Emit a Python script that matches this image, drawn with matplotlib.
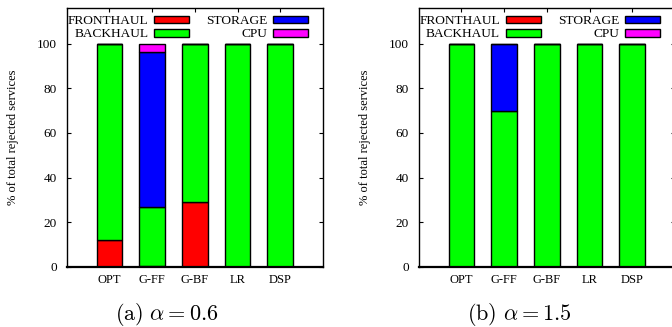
import matplotlib
matplotlib.use("Agg")
from matplotlib import pyplot as plt
import numpy as np

plt.rcParams['font.family'] = ['Liberation Serif', 'DejaVu Serif']
plt.rcParams['mathtext.fontset'] = 'cm'

categories = ['OPT', 'G-FF', 'G-BF', 'LR', 'DSP']
series_names = ['FRONTHAUL', 'BACKHAUL', 'STORAGE', 'CPU']
series_colors = ['#ff0000', '#00ff00', '#0000ff', '#ff00ff']

# (a) alpha = 0.6
fronthaul_a = [12.1, 0.3, 28.8, 0, 0]
backhaul_a = [87.9, 26.6, 71.2, 100, 100]
storage_a = [0, 69.6, 0, 0, 0]
cpu_a = [0, 3.5, 0, 0, 0]

# (b) alpha = 1.5
fronthaul_b = [0, 0, 0, 0, 0]
backhaul_b = [100, 69.7, 100, 100, 100]
storage_b = [0, 30.3, 0, 0, 0]
cpu_b = [0, 0, 0, 0, 0]

captions = [r'$\mathrm{(a)}\ \alpha = 0.6$', r'$\mathrm{(b)}\ \alpha = 1.5$']
yticks = [0, 20, 40, 60, 80, 100]

fig = plt.figure(figsize=(6.72, 3.27), dpi=100)


def draw_panel(ax, data):
    x = np.arange(len(categories))
    bottom = np.zeros(len(categories))
    for name, color, values in zip(series_names, series_colors, data):
        values = np.array(values, dtype=float)
        ax.bar(x, values, 0.6, bottom=bottom, color=color, edgecolor='black',
               linewidth=1.0, label=name, zorder=2)
        bottom += values
    ax.set_xlim(-1, 5)
    ax.set_ylim(0, 116)
    ax.set_xticks(x)
    ax.set_xticklabels(categories, fontsize=9)
    ax.set_yticks(yticks)
    ax.tick_params(axis='y', labelsize=9.5, direction='in', length=3,
                   right=True, width=0.8, pad=7)
    ax.tick_params(axis='x', direction='in', length=3, top=True, width=0.8,
                   pad=5)
    for s in ax.spines.values():
        s.set_linewidth(1.0)
    ax.spines['bottom'].set_linewidth(1.6)
    ax.set_ylabel('% of total rejected services', fontsize=9)
    ax.yaxis.set_label_coords(-0.185, 0.5)
    ax.legend(ncol=2, markerfirst=False, frameon=False, loc='upper right',
              bbox_to_anchor=(0.952, 0.982),
              fontsize=9.6, handlelength=2.6, handleheight=0.5,
              columnspacing=1.3, labelspacing=0.08, handletextpad=0.45,
              borderaxespad=0.0, borderpad=0.2)


ax1 = fig.add_axes([0.0993, 0.1844, 0.3814, 0.791])
draw_panel(ax1, [fronthaul_a, backhaul_a, storage_a, cpu_a])
ax2 = fig.add_axes([0.623, 0.1844, 0.3814, 0.791])
draw_panel(ax2, [fronthaul_b, backhaul_b, storage_b, cpu_b])

fig.text(167 / 672, 1 - 315 / 327, captions[0], fontsize=16,
         ha='center', va='center')
fig.text(519 / 672, 1 - 315 / 327, captions[1], fontsize=16,
         ha='center', va='center')

fig.savefig('out.png', dpi=100)
